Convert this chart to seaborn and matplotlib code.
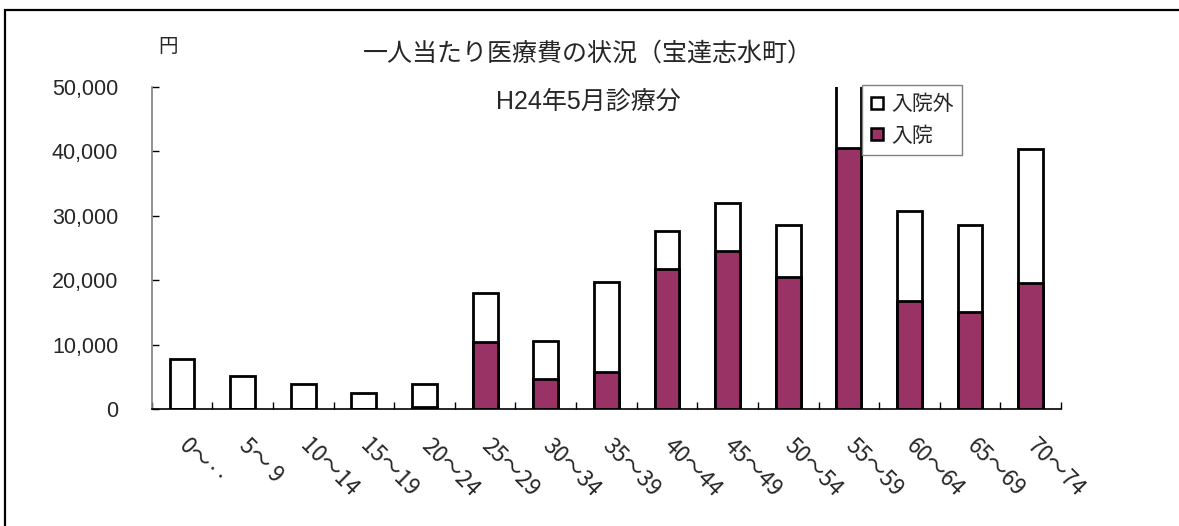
import matplotlib
matplotlib.use("Agg")
import matplotlib.pyplot as plt
from matplotlib.lines import Line2D
from matplotlib.patches import Rectangle
from matplotlib.ticker import FuncFormatter, FixedLocator
import seaborn as sns
import numpy as np

# Age groups and per-person medical cost (yen)
age_groups = ["0～‥", "5～ 9", "10～14", "15～19", "20～24", "25～29", "30～34",
              "35～39", "40～44", "45～49", "50～54", "55～59", "60～64",
              "65～69", "70～74"]
inpatient = [0, 0, 0, 0, 300, 10500, 4750, 5850, 21700, 24600, 20550,
             40500, 16800, 15150, 19550]
outpatient = [7800, 5100, 3950, 2500, 3700, 7500, 5850, 13950, 6000, 7350,
              8000, 11000, 13950, 13400, 20850]
y_ticks = [0, 10000, 20000, 30000, 40000, 50000]

total = [a + b for a, b in zip(inpatient, outpatient)]

PLUM = "#993366"
sns.set_style("white")
plt.rcParams["font.family"] = ["Liberation Sans", "Noto Sans CJK JP", "DejaVu Sans"]
CJK_FIRST = ["Noto Sans CJK JP", "Liberation Sans", "DejaVu Sans"]

fig = plt.figure(figsize=(11.79, 5.26), dpi=100)
ax = fig.add_axes([151.7 / 1179, 1 - 409.3 / 526, (1061 - 151.7) / 1179, (409.3 - 87) / 526])

# Stacked bars: full height (white, outpatient on top) then inpatient part
sns.barplot(x=age_groups, y=total, order=age_groups, color="white", saturation=1,
            edgecolor="black", linewidth=2, width=0.41, ax=ax)
sns.barplot(x=age_groups, y=inpatient, order=age_groups, color=PLUM, saturation=1,
            edgecolor="black", linewidth=2, width=0.41, ax=ax)

ax.set_xlim(-0.5, len(age_groups) - 0.5)
ax.set_ylim(0, 50000)
ax.set_yticks(y_ticks)
ax.yaxis.set_major_formatter(FuncFormatter(lambda v, p: f"{int(v):,}"))

for side in ("top", "right"):
    ax.spines[side].set_visible(False)
ax.spines["left"].set_color("#808080")
ax.spines["left"].set_linewidth(1.2)
ax.spines["bottom"].set_color("black")
ax.spines["bottom"].set_linewidth(1.2)

ax.tick_params(axis="y", direction="in", length=5, width=1, color="black",
               labelsize=15.5, pad=24, left=True)
ax.xaxis.set_minor_locator(FixedLocator(np.arange(-0.5, len(age_groups), 1.0)))
ax.tick_params(axis="x", which="minor", direction="in", length=5, width=1, color="black", bottom=True)
ax.tick_params(axis="x", which="major", length=0, pad=24)
ax.set_xticks(range(len(age_groups)))
ax.set_xticklabels(age_groups, rotation=-45, rotation_mode="anchor", ha="left",
                   va="center", fontsize=16, fontfamily=CJK_FIRST)
ax.set_xlabel("")
ax.set_ylabel("")

# Titles and unit
fig.text(588 / 1179, 1 - 54 / 526, "一人当たり医療費の状況（宝達志水町）",
         ha="center", va="center", fontsize=18, family=CJK_FIRST)
fig.text(588 / 1179, 1 - 102 / 526, "H24年5月診療分",
         ha="center", va="center", fontsize=18)
fig.text(168 / 1179, 1 - 46 / 526, "円", ha="center", va="center", fontsize=14,
         family=CJK_FIRST)

handles = [
    Line2D([], [], ls="", marker="s", markersize=8, markerfacecolor="white",
           markeredgecolor="black", markeredgewidth=1.8),
    Line2D([], [], ls="", marker="s", markersize=8, markerfacecolor=PLUM,
           markeredgecolor="black", markeredgewidth=1.8),
]
leg = fig.legend(handles, ["入院外", "入院"], loc="upper left",
                 bbox_to_anchor=(862 / 1179, 1 - 85 / 526), borderaxespad=0,
                 prop={"family": CJK_FIRST, "size": 15}, frameon=True,
                 fancybox=False, framealpha=1,
                 edgecolor="#808080", handlelength=0.6, handletextpad=0.4,
                 labelspacing=0.45, borderpad=0.4)
leg.get_frame().set_linewidth(1)

# Outer chart frame
fig.patches.append(Rectangle((5 / 1179, -0.2), 1.2, 1 - 10 / 526 + 0.2,
                             transform=fig.transFigure, fill=False,
                             edgecolor="black", linewidth=1.6))

fig.savefig("out.png", dpi=100)
